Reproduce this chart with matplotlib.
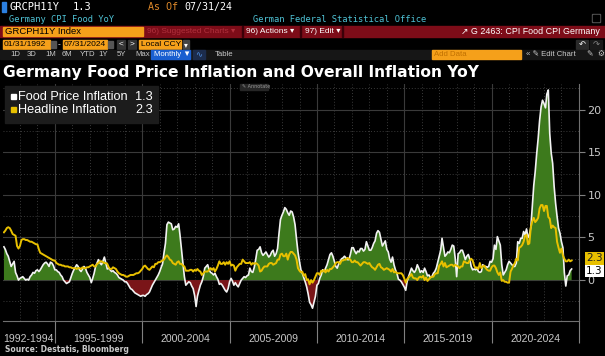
import numpy as np
import pandas as pd
import matplotlib
matplotlib.use("Agg")
import matplotlib.pyplot as plt
from matplotlib.patches import Rectangle

# monthly YoY %, Jan 1992 .. Jul 2024
food = [
    3.9, 3.6, 3.1, 2.8, 2.2, 1.6, 1.9, 2.2, 0.9, 0.5, 0.0, 0.2,        # 1992
    0.3, 0.4, 0.2, 0.0, 0.1, 0.0, 0.4, 0.6, 0.9, 0.8, 1.1, 1.2,        # 1993
    1.0, 1.2, 1.5, 1.8, 2.0, 2.1, 1.9, 1.6, 2.1, 2.0, 1.7, 1.2,        # 1994
    1.2, 1.0, 0.9, 0.6, 0.4, 0.0, -0.2, -0.4, -0.3, -0.2, 0.3, 0.8,    # 1995
    1.2, 1.5, 1.8, 1.6, 1.2, 1.0, 1.3, 1.6, 1.4, 0.9, 0.6, 0.3,        # 1996
    -0.3, 0.2, 0.8, 1.6, 2.0, 2.4, 2.0, 1.8, 2.2, 2.7, 2.0, 1.3,       # 1997
    1.4, 1.2, 1.0, 1.1, 0.9, 0.8, 0.6, 0.3, 0.2, 0.1, 0.0, -0.2,       # 1998
    -0.2, -0.4, -0.7, -1.0, -1.1, -1.3, -1.5, -1.6, -1.7, -1.8, -1.9, -1.8,  # 1999
    -1.8, -1.9, -1.7, -1.6, -1.4, -1.0, -0.6, -0.3, 0.0, 0.3, 0.6, 1.0,      # 2000
    1.5, 1.9, 3.2, 4.3, 6.5, 6.8, 6.7, 6.6, 5.9, 6.0, 6.3, 6.2,        # 2001
    6.6, 5.3, 3.6, 2.0, 0.4, -0.6, -0.4, -0.2, -0.3, -0.7, -1.0, -1.8, # 2002
    -3.1, -1.9, -1.2, -0.6, -0.2, 0.4, 1.4, 1.6, 1.8, 1.2, 0.9, 0.8,   # 2003
    0.6, 0.8, 0.4, 0.1, -0.5, -0.4, -0.6, -0.9, -1.2, -1.4, -1.0, -0.2,  # 2004
    0.2, -0.1, -0.6, -0.3, -0.6, -0.8, -0.4, 0.0, 0.2, 0.4, 0.3, 0.5,  # 2005
    0.6, 1.4, 1.0, 0.9, 1.5, 2.4, 3.5, 3.6, 3.9, 3.2, 2.9, 3.1,        # 2006
    3.3, 3.0, 2.7, 2.9, 3.3, 3.5, 2.8, 3.1, 3.7, 5.5, 7.1, 7.6,        # 2007
    8.0, 8.5, 8.3, 7.9, 7.6, 8.1, 8.0, 7.4, 6.5, 4.8, 3.3, 2.2,        # 2008
    1.2, 0.8, 0.3, -0.2, -0.8, -1.6, -2.6, -2.9, -3.3, -2.6, -1.9, -0.6,  # 2009
    -0.4, 0.2, 0.6, 1.2, 1.0, 1.4, 1.8, 2.4, 3.0, 3.2, 2.8, 2.2,       # 2010
    1.6, 1.4, 1.9, 2.2, 2.5, 2.6, 2.8, 2.6, 2.4, 2.4, 3.0, 3.8,        # 2011
    3.8, 3.4, 3.1, 3.4, 3.3, 3.7, 3.7, 3.4, 3.6, 4.5, 4.0, 3.5,        # 2012
    3.5, 3.8, 4.3, 4.6, 5.5, 5.8, 5.6, 4.8, 4.0, 4.3, 4.6, 3.6,        # 2013
    3.3, 2.5, 2.1, 2.7, 1.8, 1.2, 0.8, 0.1, 0.0, -0.2, -0.5, -0.8,     # 2014
    -1.2, -0.2, 0.4, 0.9, 1.4, 1.1, 0.9, 1.2, 1.8, 1.4, 0.9, 1.1,      # 2015
    0.9, 1.4, 1.0, 0.5, 0.6, 0.3, 0.4, 0.8, 1.0, 1.4, 2.1, 2.8,        # 2016
    3.5, 4.9, 3.8, 2.8, 3.0, 3.3, 3.2, 3.6, 4.1, 4.0, 2.6, 0.4,        # 2017
    3.1, 3.2, 3.5, 3.5, 3.0, 2.4, 2.8, 3.0, 2.5, 1.6, 1.2, 1.3,        # 2018
    1.2, 1.4, 1.0, 0.9, 1.0, 1.8, 1.6, 1.6, 1.5, 1.6, 2.2, 2.1,        # 2019
    2.5, 4.1, 3.6, 5.1, 4.6, 4.1, 1.8, 0.6, 0.9, 1.2, 1.8, 2.2,        # 2020
    2.0, 1.8, 1.6, 1.6, 2.0, 4.5, 4.3, 4.9, 4.9, 5.7, 5.3, 6.0,        # 2021
    5.0, 5.3, 6.2, 8.6, 11.1, 12.7, 14.8, 16.6, 18.7, 20.3, 21.1, 20.7,  # 2022
    20.2, 21.8, 22.3, 17.2, 14.9, 13.7, 11.0, 9.0, 7.5, 6.1, 5.5, 4.5, # 2023
    3.8, 0.9, -0.7, 0.5, 0.6, 1.1, 1.3,                                 # 2024
]

headline = [
    5.6, 5.8, 6.1, 6.2, 6.1, 5.8, 5.4, 5.3, 5.2, 4.0, 3.7, 4.0,        # 1992
    4.7, 4.8, 4.8, 4.7, 4.7, 4.6, 4.5, 4.5, 4.4, 4.3, 4.2, 4.2,        # 1993
    3.6, 3.2, 3.1, 3.0, 2.9, 2.8, 2.7, 2.6, 2.5, 2.4, 2.3, 2.3,        # 1994
    2.0, 1.9, 1.8, 1.8, 1.7, 1.7, 1.6, 1.6, 1.6, 1.5, 1.5, 1.4,        # 1995
    1.4, 1.4, 1.3, 1.4, 1.4, 1.3, 1.5, 1.4, 1.4, 1.5, 1.5, 1.6,        # 1996
    1.7, 1.8, 1.6, 1.6, 1.9, 2.0, 2.2, 2.2, 2.1, 2.0, 2.0, 1.9,        # 1997
    1.5, 1.3, 1.3, 1.5, 1.4, 1.3, 1.0, 0.8, 0.7, 0.6, 0.6, 0.5,        # 1998
    0.4, 0.4, 0.5, 0.6, 0.6, 0.6, 0.7, 0.8, 0.8, 0.9, 1.1, 1.3,        # 1999
    1.6, 1.7, 1.5, 1.3, 1.2, 1.4, 1.6, 1.5, 1.9, 1.9, 2.1, 2.1,        # 2000
    2.2, 2.3, 2.4, 2.7, 2.9, 2.7, 2.4, 2.3, 2.0, 1.9, 1.8, 2.1,        # 2001
    2.2, 1.9, 1.9, 1.7, 1.6, 1.1, 1.1, 1.1, 1.2, 1.2, 1.0, 1.2,        # 2002
    1.1, 1.3, 1.1, 1.0, 0.6, 0.8, 1.0, 1.0, 1.0, 1.2, 1.4, 1.2,        # 2003
    1.4, 1.0, 1.3, 1.7, 2.2, 1.9, 1.9, 2.1, 1.8, 2.1, 1.9, 2.2,        # 2004
    1.7, 1.8, 1.7, 1.1, 1.5, 1.7, 1.9, 1.9, 2.4, 2.2, 2.0, 2.0,        # 2005
    2.0, 2.1, 1.8, 2.0, 1.9, 2.0, 1.9, 1.7, 1.0, 1.1, 1.4, 1.6,        # 2006
    1.6, 1.6, 1.9, 2.0, 2.0, 1.8, 1.9, 2.0, 2.4, 2.4, 3.0, 3.1,        # 2007
    2.8, 2.8, 3.1, 2.4, 3.0, 3.3, 3.3, 3.1, 2.9, 2.4, 1.4, 1.1,        # 2008
    0.9, 1.0, 0.5, 0.7, 0.0, 0.1, -0.5, 0.0, -0.3, 0.0, 0.4, 0.8,      # 2009
    0.8, 0.6, 1.1, 1.0, 1.2, 0.9, 1.2, 1.0, 1.3, 1.3, 1.5, 1.7,        # 2010
    2.0, 2.1, 2.1, 1.9, 2.3, 2.3, 2.4, 2.4, 2.6, 2.5, 2.4, 2.1,        # 2011
    2.1, 2.3, 2.1, 2.1, 1.9, 1.7, 1.9, 2.1, 2.1, 2.0, 1.9, 2.0,        # 2012
    1.7, 1.5, 1.4, 1.2, 1.5, 1.8, 1.9, 1.5, 1.4, 1.2, 1.3, 1.4,        # 2013
    1.3, 1.2, 1.0, 1.3, 0.9, 1.0, 0.8, 0.8, 0.8, 0.8, 0.6, 0.2,        # 2014
    -0.3, 0.1, 0.3, 0.5, 0.7, 0.3, 0.2, 0.2, 0.0, 0.3, 0.4, 0.3,       # 2015
    0.5, 0.0, 0.3, -0.1, 0.1, 0.3, 0.4, 0.4, 0.7, 0.8, 0.8, 1.7,       # 2016
    1.9, 2.2, 1.6, 2.0, 1.5, 1.6, 1.7, 1.8, 1.8, 1.6, 1.8, 1.7,        # 2017
    1.6, 1.4, 1.6, 1.6, 2.2, 2.1, 2.0, 2.0, 2.3, 2.5, 2.3, 1.7,        # 2018
    1.4, 1.5, 1.3, 2.0, 1.4, 1.6, 1.7, 1.4, 1.2, 1.1, 1.1, 1.5,        # 2019
    1.7, 1.7, 1.4, 0.9, 0.6, 0.9, -0.1, 0.0, -0.2, -0.2, -0.3, -0.3,   # 2020
    1.0, 1.3, 1.7, 2.0, 2.5, 2.3, 3.8, 3.9, 4.1, 4.5, 5.2, 5.3,        # 2021
    4.2, 4.3, 6.2, 6.9, 7.3, 6.8, 7.0, 7.3, 8.4, 8.8, 8.8, 8.1,        # 2022
    8.7, 8.7, 7.4, 7.2, 6.1, 6.4, 6.2, 6.1, 4.5, 3.8, 3.2, 3.7,        # 2023
    2.9, 2.5, 2.2, 2.2, 2.4, 2.2, 2.3,                                  # 2024
]

period_labels = ["1992-1994", "1995-1999", "2000-2004", "2005-2009",
                 "2010-2014", "2015-2019", "2020-2024"]
period_mid = ["1993-07-01", "1997-07-01", "2002-07-01", "2007-07-01",
              "2012-07-01", "2017-07-01", "2022-07-01"]
yticks = [0, 5, 10, 15, 20]

dates = pd.date_range("1992-01-31", periods=len(food), freq="ME")
food = np.array(food)
headline = np.array(headline)

W, H = 605, 356
BG = "black"
ORANGE = "#f5a01a"
CYAN = "#4fc3d6"
GREY = "#c8c8c8"
SANS = "Liberation Sans"
MONO = "DejaVu Sans Mono"

fig = plt.figure(figsize=(W / 100, H / 100), dpi=100, facecolor=BG)


def fx(x):
    return x / W


def fy(y):
    return 1 - y / H


def box(x0, y0, x1, y1, color, z=0):
    fig.patches.append(Rectangle((fx(x0), fy(y1)), (x1 - x0) / W, (y1 - y0) / H,
                                 transform=fig.transFigure, color=color, zorder=z))


def txt(x, y, s, color, size, ha="left", family=SANS, weight="normal", z=3):
    fig.text(fx(x), fy(y), s, color=color, fontsize=size, ha=ha, va="center",
             family=[family, "DejaVu Sans"], weight=weight, zorder=z)


# --- header rows 1 and 2
box(2, 2, 6, 12, "#2b7fe0")
txt(10, 7, "GRCPH11Y", "white", 7.5, family=MONO)
txt(73, 7, "1.3", "white", 7.5, family=MONO)
txt(148, 7, "As Of", "#e08a2a", 7.2, family=MONO)
txt(184, 7, "07/31/24", "white", 7.2, family=MONO)
txt(9, 19.5, "Germany CPI Food YoY", CYAN, 6.3, family=MONO)
txt(253, 19.5, "German Federal Statistical Office", CYAN, 6.3, family=MONO)
box(592, 14, 600, 22, "#555555")
box(593, 15, 599, 21, BG)

# --- red toolbar
box(0, 26, 605, 37, "#7d0c18")
box(3, 27, 143, 36, ORANGE)
txt(5, 31.5, "GRCPH11Y Index", "black", 6.8)
txt(147, 31.5, "96) Suggested Charts \u25be", "#b0303c", 6.0)
box(242, 26, 243, 37, "#3a0008")
txt(246, 31.5, "96) Actions \u25be", "white", 6.0)
box(300, 26, 301, 37, "#3a0008")
txt(305, 31.5, "97) Edit \u25be", "white", 6.0)
box(342, 26, 343, 37, "#3a0008")
txt(600, 31.5, "\u2197 G 2463: CPI Food CPI Germany", "white", 6.4, ha="right")

# --- date row
box(3, 40, 50, 49, ORANGE)
txt(4, 44.5, "01/31/1992", "black", 6.0)
box(51, 41, 56, 48, "#555555")
txt(58, 44.5, "-", "white", 6.0)
box(63, 40, 107, 49, ORANGE)
txt(64, 44.5, "07/31/2024", "black", 6.0)
box(108, 41, 113, 48, "#555555")
box(117, 40, 125, 49, "#333333")
txt(121, 44.5, "<", "white", 6, ha="center")
box(128, 40, 136, 49, "#333333")
txt(132, 44.5, ">", "white", 6, ha="center")
box(139, 40, 181, 49, ORANGE)
txt(141, 44.5, "Local CCY", "black", 6.0)
box(183, 40, 189, 49, "#444444")
txt(186, 44.5, "\u25be", "white", 5.5, ha="center", family="DejaVu Sans")
box(576, 40, 588, 49, "#2a2a2a")
txt(582, 44.5, "\u21b6", "white", 6, ha="center", family="DejaVu Sans")
box(590, 40, 602, 49, "#1a1a1a")
txt(596, 44.5, "\u21b7", "#888888", 6, ha="center", family="DejaVu Sans")

# --- range row
box(0, 50, 605, 59, "#161616")
for lab, xp in zip(["1D", "3D", "1M", "6M", "YTD", "1Y", "5Y", "Max"],
                   [10, 27, 45, 62, 80, 98, 117, 135]):
    txt(xp, 54.5, lab, GREY, 5.6)
box(151, 50, 190, 59, "#1a5fd0")
txt(154, 54.5, "Monthly \u25bc", "white", 5.6)
box(193, 50, 205, 59, "#1c2c4c")
txt(199, 54.5, "\u223f", "#4f8fe0", 6, ha="center", family="DejaVu Sans")
txt(215, 54.5, "Table", GREY, 5.6)
box(432, 50, 521, 59, ORANGE)
txt(434, 54.5, "Add Data", "#c07000", 5.6)
txt(526, 54.5, "\u00ab \u270e Edit Chart", GREY, 5.6)
txt(586, 54.5, "\u270e", GREY, 5.6)
txt(597, 54.5, "\u2699", GREY, 5.6)

# --- title
txt(3, 72, "Germany Food Price Inflation and Overall Inflation YoY", "white", 11.2,
    family="DejaVu Sans", weight="bold")

# --- chart
ax = fig.add_axes([fx(2.5), fy(321), (579 - 2.5) / W, (321 - 84) / H])
ax.set_facecolor(BG)

ax.fill_between(dates, food, 0, where=food >= 0, interpolate=True,
                color="#3d7a1c", lw=0, zorder=2)
ax.fill_between(dates, food, 0, where=food <= 0, interpolate=True,
                color="#7a1518", lw=0, zorder=2)
ax.plot(dates, food, color="#f2f2f2", lw=1.2, zorder=3)
ax.plot(dates, headline, color="#e8c000", lw=1.4, zorder=4)

ax.set_xlim(pd.Timestamp("1992-01-01"), pd.Timestamp("2025-01-01"))
ax.set_ylim(-4.8, 23.0)

# grid: solid every 5, dotted in between, dotted yearly verticals
for v in np.arange(-2.5, 23, 5):
    ax.axhline(v, color="#3a3a3a", lw=0.7, ls=(0, (1, 2)), zorder=1)
for v in yticks:
    ax.axhline(v, color="#3a3a3a", lw=0.8, zorder=1)
for yr in range(1993, 2025):
    if yr % 5 == 0:
        ax.axvline(pd.Timestamp(f"{yr}-01-01"), color="#3a3a3a", lw=0.8, zorder=1)
    else:
        ax.axvline(pd.Timestamp(f"{yr}-01-01"), color="#3a3a3a", lw=0.7,
                   ls=(0, (1, 2)), zorder=1)

ax.yaxis.tick_right()
ax.set_yticks(yticks)
ax.tick_params(axis="y", colors=GREY, labelsize=8, length=4, width=0.8, pad=2)
ax.tick_params(axis="y", which="both", color="#808080")

major = [pd.Timestamp(f"{y}-01-01") for y in range(1995, 2026, 5)]
ax.set_xticks(major)
ax.set_xticklabels([""] * len(major))
ax.set_xticks([pd.Timestamp(d) for d in period_mid], minor=True)
ax.set_xticklabels(period_labels, minor=True, family=SANS)
ax.tick_params(axis="x", which="major", length=16, width=0.8, color="#808080")
ax.tick_params(axis="x", which="minor", length=0, pad=9, labelsize=7.6,
               labelcolor=GREY)

for s in ["top", "left"]:
    ax.spines[s].set_visible(False)
ax.spines["bottom"].set_color("#707070")
ax.spines["right"].set_color("#707070")

# last value tags on the right axis
ax.annotate("2.3", xy=(1.0, headline[-1]), xycoords=("axes fraction", "data"),
            xytext=(5, 1.5), textcoords="offset points", fontsize=7.5,
            color="#222222", va="center", ha="left", annotation_clip=False,
            bbox=dict(boxstyle="square,pad=0.12", fc="#e8c000", ec="none"))
ax.annotate("1.3", xy=(1.0, food[-1]), xycoords=("axes fraction", "data"),
            xytext=(5, -1.5), textcoords="offset points", fontsize=7.5,
            color="black", va="center", ha="left", annotation_clip=False,
            bbox=dict(boxstyle="square,pad=0.12", fc="white", ec="none"))

# legend box
box(5, 86, 158, 123, "#1c1c1c", z=5)
box(11, 94, 16, 99, "white", z=6)
box(11, 107, 16, 112, "#e8c000", z=6)
for yy, name, val in [(97, "Food Price Inflation", "1.3"),
                      (110, "Headline Inflation", "2.3")]:
    txt(18, yy, name, "white", 9.2, z=6)
    txt(153, yy, val, "white", 9.2, ha="right", z=6)

# annotate chip
box(240, 84, 268, 90, "#262626", z=5)
txt(242, 87, "\u270e Annotate", "#999999", 3.5, family="DejaVu Sans", z=6)

# source
txt(5, 349, "Source: Destatis, Bloomberg", GREY, 5.5, family="DejaVu Sans",
    weight="bold")

fig.savefig("out.png", dpi=100, facecolor=BG)
